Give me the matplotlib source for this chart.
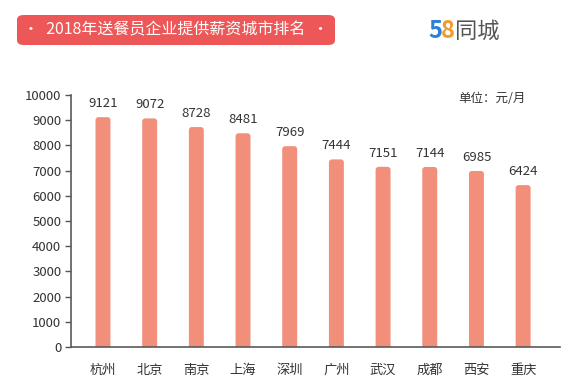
import matplotlib
matplotlib.use("Agg")
import matplotlib.pyplot as plt
from matplotlib.patches import FancyBboxPatch

plt.rcParams['font.family'] = ['Noto Sans CJK SC', 'DejaVu Sans']

cities = ['杭州', '北京', '南京', '上海', '深圳', '广州', '武汉', '成都', '西安', '重庆']
salary = [9121, 9072, 8728, 8481, 7969, 7444, 7151, 7144, 6985, 6424]
yticks = list(range(0, 10001, 1000))

W, H = 566, 388
fig = plt.figure(figsize=(W / 100, H / 100), dpi=100)
ax = fig.add_axes([71 / W, 1 - 347 / H, (560 - 71) / W, (347 - 95) / H])

x = list(range(len(cities)))
bars = ax.bar(x, salary, width=0.32, color='#F28F7B', zorder=2)

ax.set_xlim(-0.685, 9.79)
ax.set_ylim(0, 10000)

# swap plain rectangles for ones with rounded tops
px_x = (9.79 + 0.685) / (560 - 71)
px_y = 10000 / (347 - 95)
for r in bars:
    bx, by = r.get_x(), r.get_y()
    bw, bh = r.get_width(), r.get_height()
    rb = FancyBboxPatch((bx, by - 300), bw, bh + 300,
                        boxstyle='round,pad=0,rounding_size=%f' % (3 * px_x),
                        mutation_aspect=px_y / px_x,
                        facecolor='#F28F7B', edgecolor='none', zorder=2)
    ax.add_patch(rb)
    rb.set_clip_path(ax.patch)
    r.set_visible(False)

for xi, v in zip(x, salary):
    ax.text(xi, v + 280, str(v), ha='center', va='bottom', fontsize=9.5, color='#333333')

ax.set_yticks(yticks)
ax.set_yticklabels([str(t) for t in yticks], fontsize=9.5, color='#333333')
ax.set_xticks(x)
ax.set_xticklabels(cities, fontsize=9.5, color='#333333')
ax.tick_params(axis='x', length=0, pad=12)
ax.tick_params(axis='y', length=4, width=1, color='#555555', pad=3)
for s in ['top', 'right']:
    ax.spines[s].set_visible(False)
for s in ['left', 'bottom']:
    ax.spines[s].set_color('#5a5a5a')
    ax.spines[s].set_linewidth(1.2)
    ax.spines[s].set_zorder(3)
ax.spines['left'].set_bounds(0, 10000)

fig.text(458 / W, 1 - 98 / H, '单位：元/月', fontsize=9, color='#333333', ha='left', va='center')

# title banner
box = FancyBboxPatch((17 / W, 1 - 45 / H), (335 - 17) / W, (45 - 15) / H,
                     boxstyle='round,pad=0,rounding_size=0.012', transform=fig.transFigure,
                     facecolor='#EE5757', edgecolor='none')
fig.patches.append(box)
fig.text(176 / W, 1 - 30 / H, '•  2018年送餐员企业提供薪资城市排名  •', fontsize=11.5,
         color='white', ha='center', va='center')

# logo
fig.text(428 / W, 1 - 31 / H, '5', fontsize=17, fontweight='bold', color='#2E7FD8', ha='left', va='center')
fig.text(441 / W, 1 - 31 / H, '8', fontsize=17, fontweight='bold', color='#F39A2B', ha='left', va='center')
fig.text(455 / W, 1 - 31 / H, '同城', fontsize=16, color='#555555', ha='left', va='center')

fig.savefig('out.png', dpi=100)
